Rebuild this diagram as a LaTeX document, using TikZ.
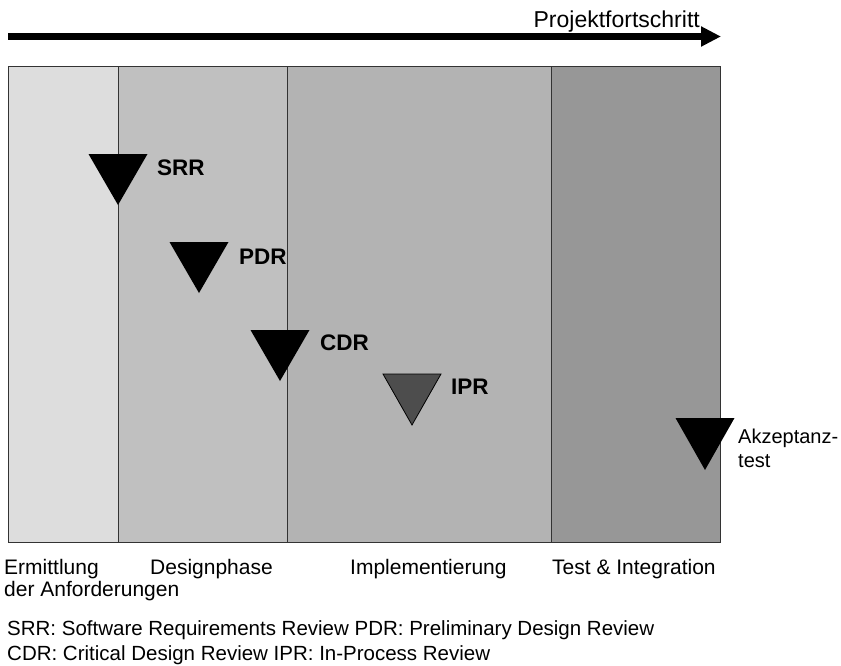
\documentclass[tikz,border=0pt]{standalone}
\usepackage{fontspec}
\setmainfont{Liberation Sans}
\usetikzlibrary{arrows.meta}
\definecolor{phaseA}{HTML}{DDDDDD}
\definecolor{phaseB}{HTML}{C0C0C0}
\definecolor{phaseC}{HTML}{B3B3B3}
\definecolor{phaseD}{HTML}{979797}
\definecolor{ipr}{HTML}{4D4D4D}
\begin{document}
\begin{tikzpicture}[x=1pt,y=-1pt,
  phase/.style={draw=black!80, line width=1.2pt, inner sep=0pt, anchor=north west, minimum height=476pt},
  lbl/.style={inner sep=0pt, anchor=base west, font=\fontsize{21}{20.5}\selectfont, align=left},
  mslbl/.style={inner sep=0pt, anchor=base west, font=\fontsize{22.5}{22.5}\selectfont\bfseries},
  progress/.style={line width=7.5pt, -{Triangle[length=20pt, width=19pt]}},
  milestone/.style={fill=black},
]
\useasboundingbox (0,0) rectangle (841,665);
\fill[white] (0,0) rectangle (841,665);

% project progress arrow
\coordinate (pstart) at (8,36.5);
\coordinate (pend) at (721,36.5);
\draw[progress] (pstart) -- (pend);
\node[lbl, anchor=base east, font=\fontsize{23}{23}\selectfont] (ptitle) at (700,27) {Projektfortschritt};

% phases
\node[phase, fill=phaseA, minimum width=110pt] (p1) at (8,66) {};
\node[phase, fill=phaseB, minimum width=169pt] (p2) at (118,66) {};
\node[phase, fill=phaseC, minimum width=264pt] (p3) at (287,66) {};
\node[phase, fill=phaseD, minimum width=169pt] (p4) at (551,66) {};

% milestones (downward triangles, apex given)
\fill[milestone] (118,205) -- ++(-29.5,-51) -- ++(59,0) -- cycle;
\fill[milestone] (199,293) -- ++(-29.5,-51) -- ++(59,0) -- cycle;
\fill[milestone] (280,381) -- ++(-29.5,-51) -- ++(59,0) -- cycle;
\filldraw[fill=ipr, draw=black, line width=0.8pt] (412,425) -- ++(-29,-51) -- ++(58,0) -- cycle;
\fill[milestone] (705,470) -- ++(-29.5,-52) -- ++(59,0) -- cycle;

\node[mslbl] (srr) at (157,175) {SRR};
\node[mslbl] (pdr) at (239,264) {PDR};
\node[mslbl] (cdr) at (320,350) {CDR};
\node[mslbl] (iprl) at (451,394) {IPR};
% multi-line nodes: the base anchor sits on the last line
\node[lbl, font=\fontsize{20}{24}\selectfont] (akz) at (738,467) {Akzeptanz-\\test};

% phase names
\node[lbl, font=\fontsize{21}{22}\selectfont] (n1) at (4,596) {Ermittlung\\der Anforderungen};
\node[lbl] (n2) at (150,574) {Designphase};
\node[lbl] (n3) at (350,574) {Implementierung};
\node[lbl] (n4) at (552,574) {Test \& Integration};

% legend
\node[lbl, font=\fontsize{20.5}{25}\selectfont] (legend) at (7,660)
  {SRR: Software Requirements Review PDR: Preliminary Design Review\\
   CDR: Critical Design Review IPR: In-Process Review};
\end{tikzpicture}
\end{document}
